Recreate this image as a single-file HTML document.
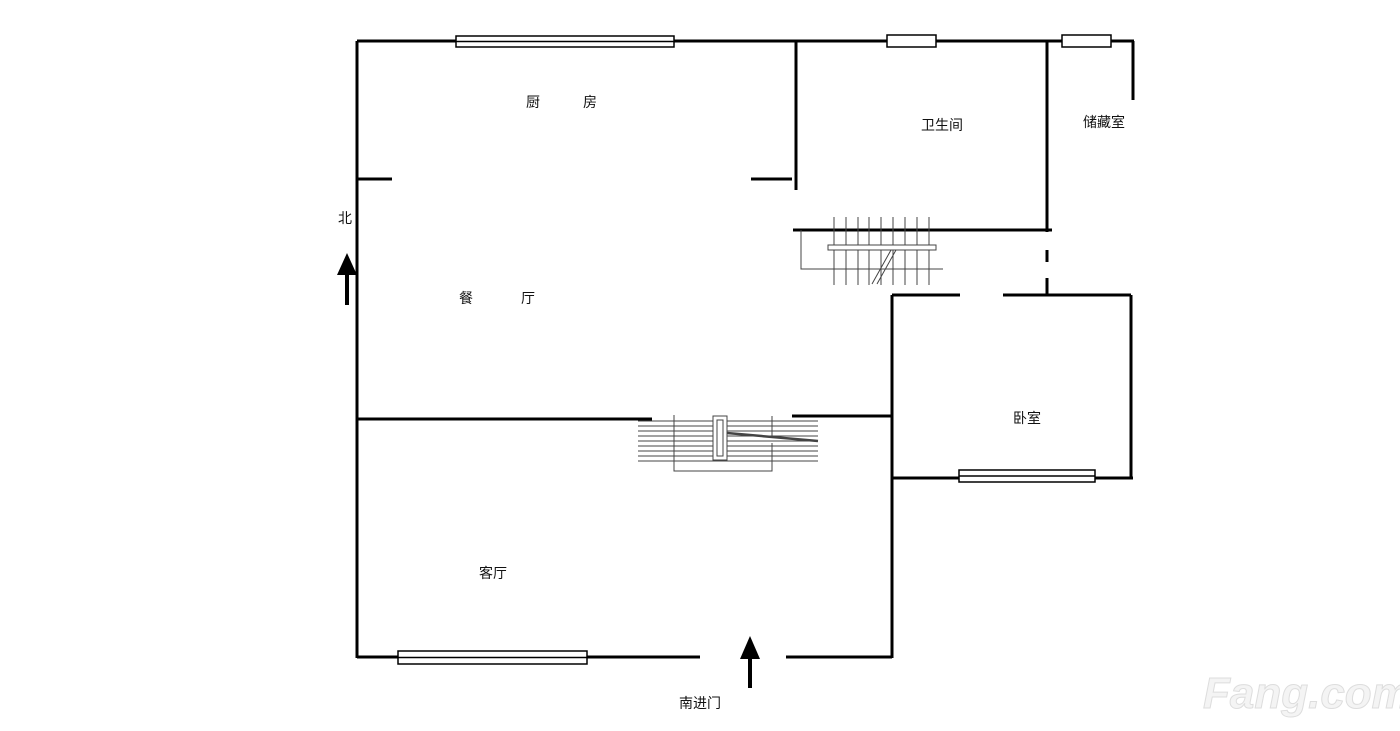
<!DOCTYPE html>
<html><head><meta charset="utf-8"><style>
body{margin:0;background:#fff;width:1400px;height:731px;overflow:hidden}
svg{display:block}
text{font-family:"Liberation Sans","Noto Sans CJK SC",sans-serif;font-size:14px;fill:#111}
</style></head><body>
<svg width="1400" height="731" viewBox="0 0 1400 731">
<g stroke="#000" stroke-width="3" fill="none">
<path d="M357 41H1134M357 41V658M796 41V190M1047 41V232M1047 250V262M1047 278V295M1133 41V100M1131 295V478"/>
<path d="M357 179H392M751 179H792M793 230H1052M892 295H960M1003 295H1131M892 295V658M357 419H652M792 416H892M892 478H1133M357 657H700M786 657H892"/>
</g>
<g stroke="#000" stroke-width="1.5" fill="#fff">
<rect x="456" y="36" width="218" height="11"/><line x1="456" y1="41.5" x2="674" y2="41.5"/>
<rect x="887" y="35" width="49" height="12"/>
<rect x="1062" y="35" width="49" height="12"/>
<rect x="959" y="470" width="136" height="12"/><line x1="959" y1="476" x2="1095" y2="476"/>
<rect x="398" y="651" width="189" height="13"/><line x1="398" y1="657.5" x2="587" y2="657.5"/>
</g>
<g stroke="#444" stroke-width="1" fill="none">
<path d="M834 217V285M846 217V285M858 217V285M869 217V285M881 217V285M893 217V285M905 217V285M917 217V285M929 217V285"/>
<path d="M801 230V269H943"/>
<rect x="828" y="245" width="108" height="5" fill="#fff"/>
<path d="M891 250L872 284M896 250L877 284"/>
<path d="M638 421H818M638 426H818M638 431H818M638 436H818M638 441H818M638 446H818M638 451H818M638 456H818M638 461H818"/>
<path d="M674 415V471H772V443M772 416V436"/>
<rect x="713" y="416" width="14" height="44" fill="#fff"/><rect x="717" y="420" width="6" height="36" fill="#fff"/>
<path d="M727 433L818 441" stroke-width="2.5"/>
</g>
<g fill="#000">
<path d="M347 305V268" stroke="#000" stroke-width="4"/><path d="M337 275L347 253L357 275Z"/>
<path d="M750 688V650" stroke="#000" stroke-width="4"/><path d="M740 659L750 636L760 659Z"/>
</g>
<text x="526" y="107">厨</text><text x="583" y="107">房</text>
<text x="921" y="130">卫生间</text>
<text x="1083" y="127">储藏室</text>
<text x="338" y="223">北</text>
<text x="459" y="303">餐</text><text x="521" y="303">厅</text>
<text x="1013" y="423">卧室</text>
<text x="479" y="578">客厅</text>
<text x="679" y="708">南进门</text>
<text x="1203" y="708" style="font-size:44px;font-weight:bold;fill:#f4f4f4;stroke:#ddd;stroke-width:1;font-style:italic">Fang.com</text>
</svg>
</body></html>
